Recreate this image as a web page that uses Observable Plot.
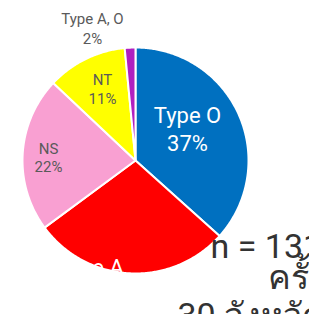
<!DOCTYPE html>
<html>
<head>
<meta charset="utf-8">
<script src="https://cdn.jsdelivr.net/npm/d3@7"></script>
<script src="https://cdn.jsdelivr.net/npm/@observablehq/plot@0.6"></script>
<style>
  html, body { margin: 0; padding: 0; background: #fff; }
  #chart svg { display: block; }
</style>
</head>
<body>
<div id="chart"></div>
<script>
// ---- data ----
const categories = ["Type O", "Type A", "NS", "NT", "Type A, O"];
const counts = [48, 37, 29, 15, 2];           // n = 131
const percentLabels = ["37%", "28%", "22%", "11%", "2%"];
const sliceColors = ["#0070c0", "#ff0000", "#f9a0d2", "#ffff00", "#b020c0"];
const annotationTexts = ["n = 131", "ครั้ง", "30 จังหวัด"];

// ---- layout (pixel offsets from pie centre, radius R) ----
const R = 113;
const labelLayout = [ // [x, nameBaseline, pctBaseline, fontSize, fill]
  [52, -38, -10, 22, "white"],
  [-45, 114, 142, 22, "white"],
  [-87, -7, 11, 15, "#5a5a5a"],
  [-33, -76, -57, 15, "#5a5a5a"],
  [-43, -137, -117, 15, "#5a5a5a"]
];
const annotationLayout = [[75, 97], [132, 128], [42, 166]];

// ---- build geometry via d3.pie ----
const pie = d3.pie().sort(null).value(d => d)(counts);
const sliceFeatures = pie.map((p, i) => {
  const ring = [[0, 0]];
  const steps = Math.max(2, Math.ceil((p.endAngle - p.startAngle) / 0.01));
  for (let k = 0; k <= steps; k++) {
    const a = p.startAngle + (p.endAngle - p.startAngle) * k / steps;
    ring.push([Math.sin(a), -Math.cos(a)]);
  }
  ring.push([0, 0]);
  return {type: "Feature", properties: {name: categories[i], color: sliceColors[i]},
          geometry: {type: "Polygon", coordinates: [ring]}};
});
const circleRing = d3.range(0, 361, 2).map(d => [Math.sin(d * Math.PI / 180), -Math.cos(d * Math.PI / 180)]);
const circle = {type: "Polygon", coordinates: [circleRing]};

const labels = [];
categories.forEach((c, i) => {
  const [lx, y1, y2, fs, fill] = labelLayout[i];
  labels.push({x: lx / R, y: y1 / R, text: c, fs, fill});
  labels.push({x: lx / R, y: y2 / R, text: percentLabels[i], fs, fill});
});
const annotations = annotationTexts.map((t, i) => ({x: annotationLayout[i][0] / R, y: annotationLayout[i][1] / R, text: t}));

const W = 309, H = 314;
const plot = Plot.plot({
  width: W, height: H,
  marginTop: 47, marginLeft: 22, marginRight: 61, marginBottom: 41,
  projection: {type: "identity", domain: circle, clip: false},
  style: {fontFamily: "Roboto, 'Noto Sans', sans-serif", background: "white"},
  marks: [
    Plot.geo(sliceFeatures, {fill: d => d.properties.color, stroke: "white", strokeWidth: 2, strokeLinejoin: "round"}),
    Plot.text(labels.filter(d => d.fs > 20), {x: "x", y: "y", text: "text", fill: "fill", fontSize: 22, lineAnchor: "bottom", textAnchor: "middle"}),
    Plot.text(labels.filter(d => d.fs <= 20), {x: "x", y: "y", text: "text", fill: "fill", fontSize: 15, lineAnchor: "bottom", textAnchor: "middle"}),
    Plot.text(annotations, {x: "x", y: "y", text: "text", fill: "#333333", fontSize: 34, lineAnchor: "bottom", textAnchor: "start"})
  ]
});
document.getElementById("chart").appendChild(plot);
</script>
</body>
</html>
